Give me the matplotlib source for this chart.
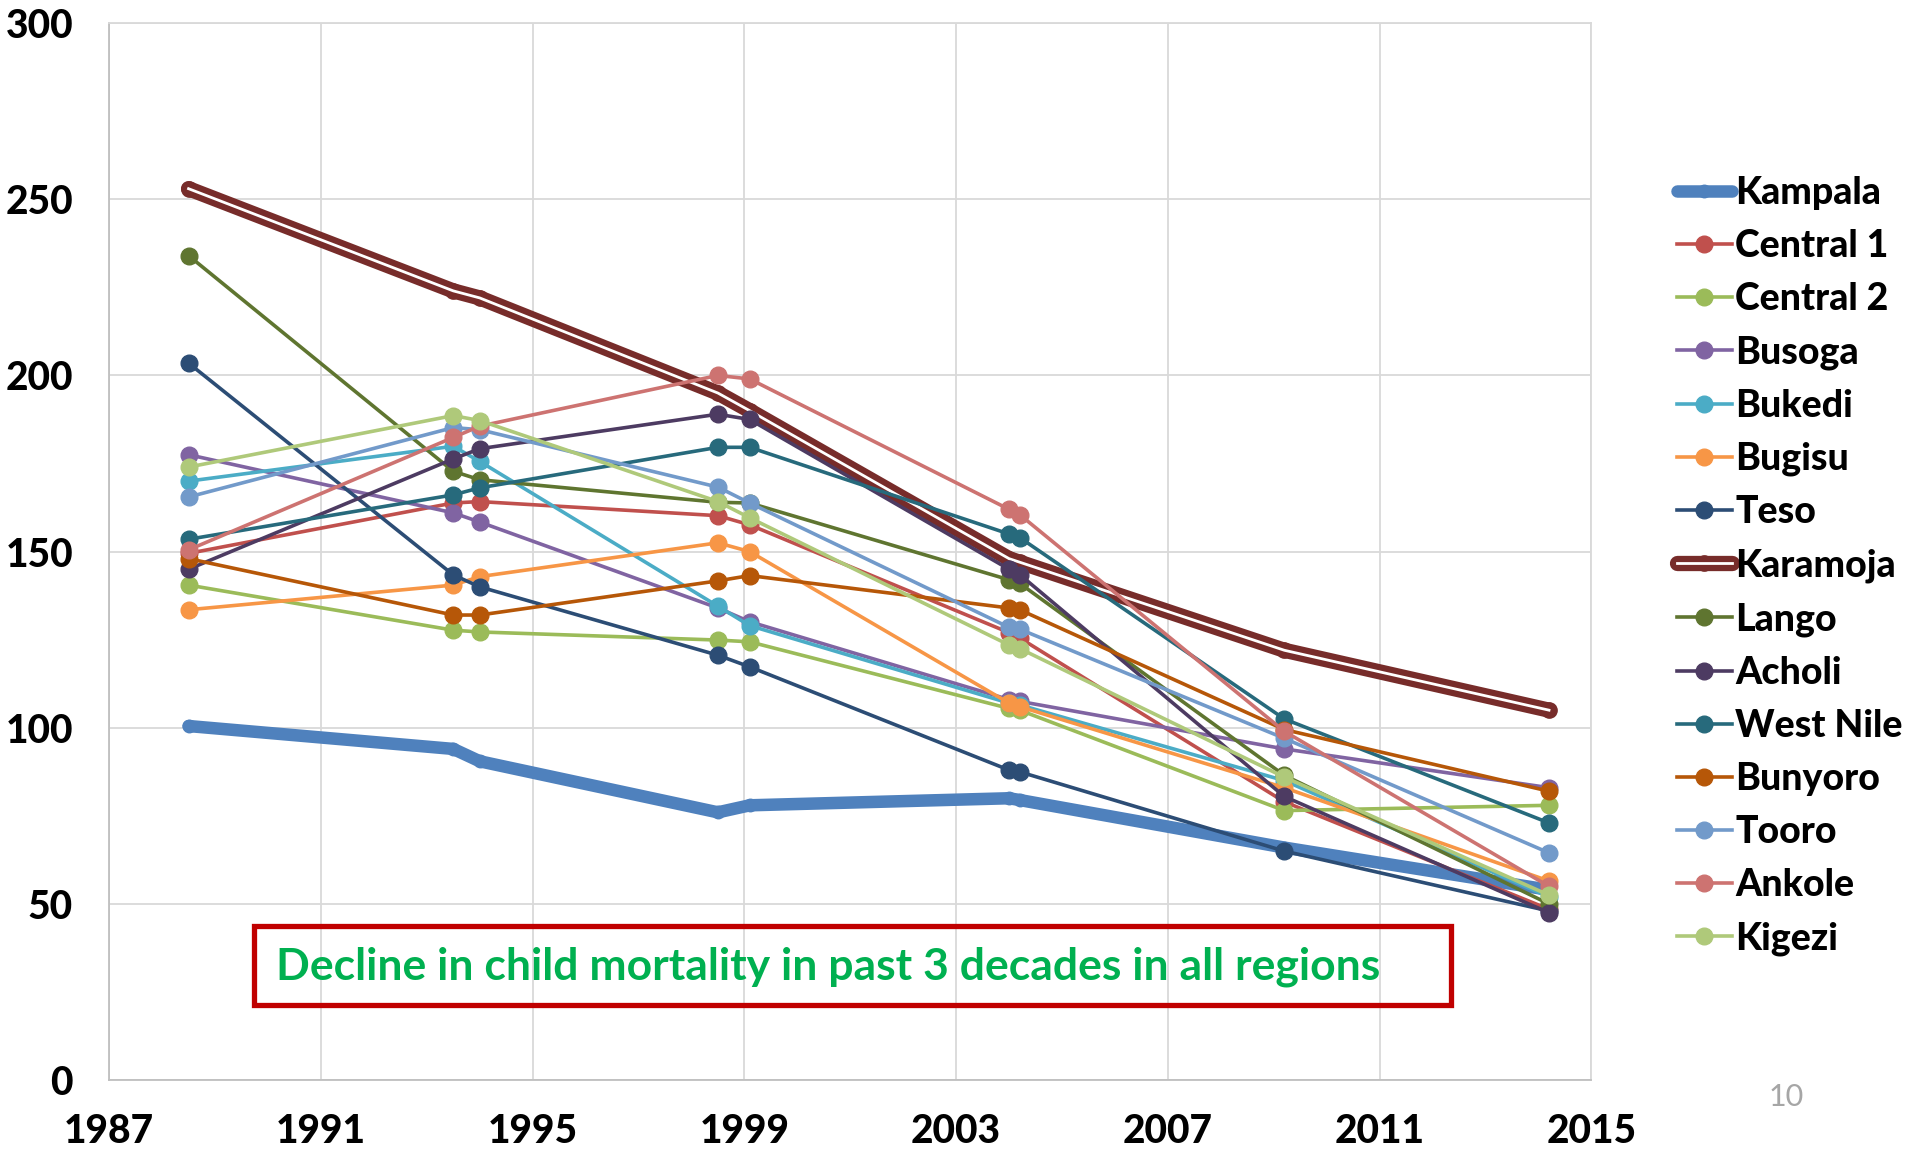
import matplotlib
matplotlib.use('Agg')
import matplotlib.pyplot as plt
from matplotlib.patches import Rectangle

plt.rcParams['font.family'] = ['Lato', 'DejaVu Sans']

# survey years (points sit a bit off the ticks)
years = [1988.5, 1993.5, 1994.0, 1998.5, 1999.1, 2004.0, 2004.2, 2009.2, 2014.2]

# under-5 mortality per region
kampala = [100.5, 94, 90.5, 76, 78, 80, 79.5, 66, 54]
central1 = [149.5, 163.8, 164.2, 160.2, 157.6, 127, 125.5, 79, 48.5]
central2 = [140.5, 127.7, 127.2, 124.9, 124.4, 105.5, 105, 76.5, 78]
busoga = [177.5, 161, 158.4, 134, 130.1, 108, 107.5, 94, 83]
bukedi = [170, 179.9, 175.6, 134.5, 129, 107, 106.5, 85, 52]
bugisu = [133.5, 140.5, 142.9, 152.5, 150, 107, 106, 83, 56.5]
teso = [203.5, 143.4, 140, 120.6, 117.3, 88, 87.5, 65, 48]
karamoja = [253, 224, 222, 195, 190, 148, 147, 122, 105]
lango = [234, 172.8, 170.4, 164, 163.8, 142, 141, 86.5, 50]
acholi = [145, 176.3, 179.2, 189, 187.5, 145, 143.5, 80.5, 47.5]
west_nile = [153.5, 166.1, 168.1, 179.6, 179.6, 155, 154, 102.5, 73]
bunyoro = [148, 132, 132, 141.7, 143.2, 134, 133.5, 99.5, 82]
tooro = [165.5, 185.2, 184.6, 168.3, 163.8, 128.5, 128, 97, 64.5]
ankole = [150.5, 182.4, 185.6, 200, 199, 162, 160.5, 99, 55]
kigezi = [174, 188.6, 187.2, 164.2, 159.6, 123.5, 122.5, 86, 52.5]

regions = ['Kampala', 'Central 1', 'Central 2', 'Busoga', 'Bukedi', 'Bugisu', 'Teso',
           'Karamoja', 'Lango', 'Acholi', 'West Nile', 'Bunyoro', 'Tooro', 'Ankole', 'Kigezi']
series = [kampala, central1, central2, busoga, bukedi, bugisu, teso,
          karamoja, lango, acholi, west_nile, bunyoro, tooro, ankole, kigezi]
colors = ['#4F81BD', '#C0504D', '#9BBB59', '#8064A2', '#4BACC6', '#F79646', '#2C4D75',
          '#772C2A', '#5F7530', '#4D3B62', '#276A7C', '#B65708', '#729ACA', '#CD7371', '#AFC97A']

fig = plt.figure(figsize=(19.15, 11.54), dpi=100)
ax = fig.add_axes([0.057, 0.064, 0.774, 0.916])

handles = []
for name, vals, col in zip(regions, series, colors):
    if name == 'Kampala':
        h, = ax.plot(years, vals, color=col, lw=9, marker='o', ms=9, solid_capstyle='round',
                     solid_joinstyle='round', zorder=2)
        handles.append(h)
    elif name == 'Karamoja':
        # double line: dark red with white core
        h1, = ax.plot(years, vals, color=col, lw=11, marker='o', ms=11, solid_capstyle='round',
                      solid_joinstyle='round', zorder=2)
        h2, = ax.plot(years, vals, color='white', lw=2, zorder=2)
        handles.append((h1, h2))
    else:
        h, = ax.plot(years, vals, color=col, lw=2.6, marker='o', ms=12, zorder=3)
        handles.append(h)

ax.set_xlim(1987, 2015)
ax.set_ylim(0, 300)
ax.set_xticks(range(1987, 2016, 4))
ax.set_yticks(range(0, 301, 50))
ax.grid(True, color='#D9D9D9', lw=1.3)
ax.set_axisbelow(True)
for s in ax.spines.values():
    s.set_color('#D9D9D9')
    s.set_linewidth(1.3)
ax.spines['bottom'].set_color('#BFBFBF')
ax.spines['left'].set_color('#BFBFBF')
ax.tick_params(length=0, labelsize=28)
ax.tick_params(axis='x', pad=24)
ax.tick_params(axis='y', pad=26)
for lab in ax.get_xticklabels() + ax.get_yticklabels():
    lab.set_fontweight('black')

fig.legend(handles, regions, loc='upper left', bbox_to_anchor=(0.866, 0.864),
           frameon=False, prop={'size': 27, 'weight': 'black'}, handlelength=1.45,
           handletextpad=0.1, labelspacing=0.51, borderpad=0)

# annotation box
fig.patches.append(Rectangle((0.1326, 0.1291), 0.625, 0.0685, transform=fig.transFigure,
                             fill=False, edgecolor='#C00000', lw=3.8, zorder=5))
fig.text(0.1441, 0.162, 'Decline in child mortality in past 3 decades in all regions',
         color='#00B050', fontsize=32, fontweight='bold', va='center', ha='left')

# slide number
fig.text(0.9326, 0.0494, '10', color='#A6A6A6', fontsize=22, ha='center', va='center')

fig.savefig('out.png', dpi=100)
